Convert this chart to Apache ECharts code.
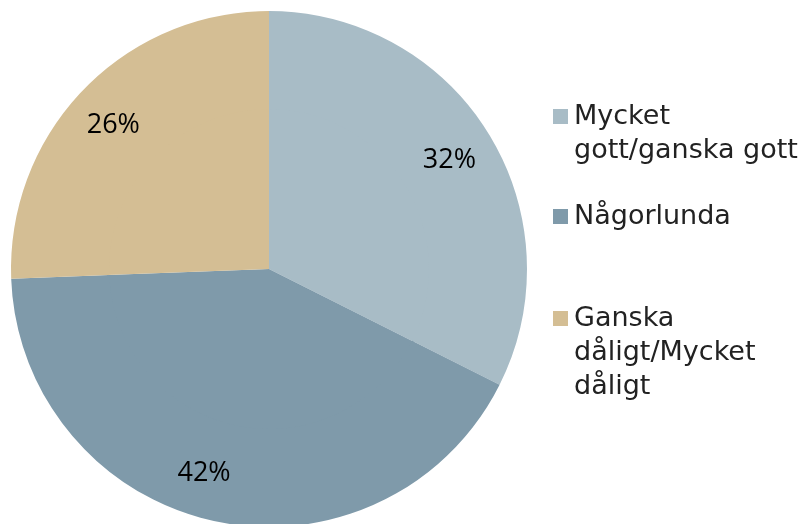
<!DOCTYPE html>
<html>
<head>
<meta charset="utf-8">
<script src="https://cdn.jsdelivr.net/npm/echarts@6/dist/echarts.min.js"></script>
<style>
  html, body { margin: 0; padding: 0; background: #fff; }
  #chart { width: 808px; height: 524px; }
</style>
</head>
<body>
<div id="chart"></div>
<script>
const categories = ['Mycket gott/ganska gott', 'Någorlunda', 'Ganska dåligt/Mycket dåligt'];
const legendLines = [
  ['Mycket', 'gott/ganska gott'],
  ['Någorlunda'],
  ['Ganska', 'dåligt/Mycket', 'dåligt']
];
const values = [32.4, 42.0, 25.6];
const colors = ['#a8bcc6', '#7f9aaa', '#d4be94'];

const chart = echarts.init(document.getElementById('chart'));

const data = categories.map((name, i) => ({
  name,
  value: values[i],
  itemStyle: { color: colors[i] }
}));

const legendTops = [62, 196, 230];
const legendLineHeight = 34;

// one legend per item so the square lines up with the first text line
const legends = categories.map((name, i) => ({
  data: [name],
  orient: 'vertical',
  left: 553,
  top: legendTops[i],
  padding: 0,
  icon: 'rect',
  itemWidth: 15,
  itemHeight: 15,
  itemGap: 0,
  selectedMode: false,
  formatter: () => {
    const lines = legendLines[i];
    const pad = new Array(lines.length - 1).fill('');
    return pad.concat(lines).join('\n');
  },
  textStyle: {
    fontFamily: '"DejaVu Sans", sans-serif',
    fontSize: 27,
    lineHeight: legendLineHeight,
    color: '#222',
    padding: [7, 0, 0, 1]
  }
}));

chart.setOption({
  animation: false,
  legend: legends,
  series: [
    {
      type: 'pie',
      center: [269, 269],
      radius: [0, 162],
      startAngle: 90,
      clockwise: true,
      silent: true,
      label: { show: false },
      labelLine: { show: false },
      data
    },
    {
      type: 'pie',
      center: [269, 269],
      radius: [160, 258],
      startAngle: 90,
      clockwise: true,
      silent: true,
      label: {
        show: true,
        position: 'inside',
        formatter: (p) => Math.round(p.value) + '%',
        fontFamily: '"Open Sans", "Liberation Sans", sans-serif',
        fontSize: 27,
        color: '#000'
      },
      labelLayout: (p) => (p.dataIndex === 1 ? { dx: -20, dy: -3 } : { dx: p.dataIndex === 2 ? -3 : 0, dy: 3 }),
      labelLine: { show: false },
      data
    }
  ]
});
</script>
</body>
</html>
